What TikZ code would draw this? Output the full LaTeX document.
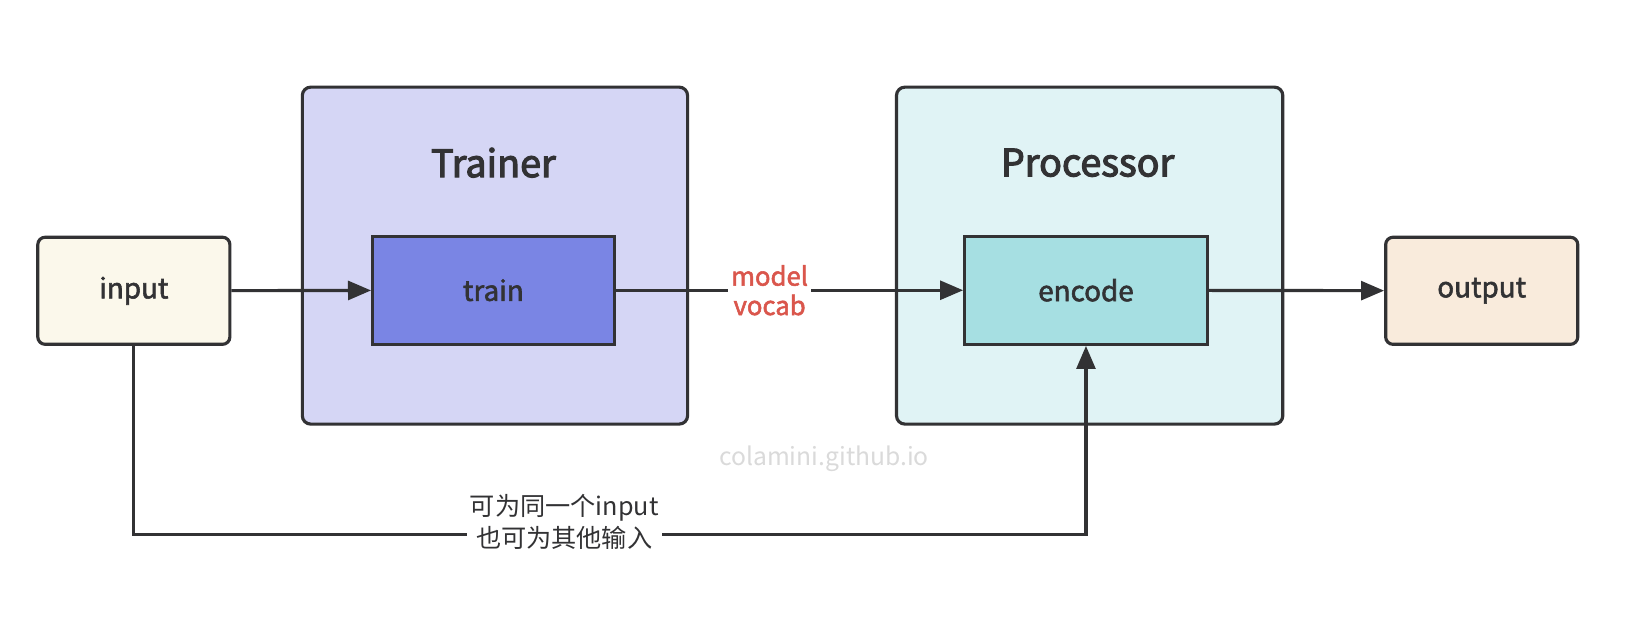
\documentclass[tikz,border=0pt]{standalone}
\usepackage{fontspec}
\setmainfont{Noto Sans CJK SC}
\newfontfamily\medfont{Noto Sans CJK SC}[FakeBold=2]
\newfontfamily\semfont{Noto Sans CJK SC}[FakeBold=3]
\usetikzlibrary{arrows.meta}
\definecolor{ink}{RGB}{50,50,52}
\definecolor{inputfill}{RGB}{251,248,235}
\definecolor{trainerfill}{RGB}{213,214,245}
\definecolor{trainfill}{RGB}{122,133,228}
\definecolor{procfill}{RGB}{224,243,245}
\definecolor{encfill}{RGB}{166,223,226}
\definecolor{outfill}{RGB}{249,235,220}
\definecolor{redtext}{RGB}{218,86,76}
\definecolor{wm}{RGB}{218,218,218}
\tikzset{
  box/.style={draw=ink, line width=3pt, rounded corners=7pt, text=ink,
    font=\medfont\fontsize{26.5}{32}\selectfont, inner sep=0pt},
  inner/.style={draw=ink, line width=3pt, text=ink,
    font=\medfont\fontsize{26.5}{32}\selectfont, inner sep=0pt},
  container/.style={draw=ink, line width=3pt, rounded corners=8pt, inner sep=0pt},
  title/.style={text=ink, font=\semfont\fontsize{36}{42}\selectfont},
  arr/.style={draw=ink, line width=3pt, -{Triangle[length=22pt,width=18pt]}},
}
\begin{document}
\begin{tikzpicture}[x=1pt,y=-1pt]
\useasboundingbox[fill=white] (0,0) rectangle (1568,594.4);
% containers
\node[container, fill=trainerfill, minimum width=367pt, minimum height=321pt] (trainer) at (471.5,243.5) {};
\node[container, fill=procfill, minimum width=368pt, minimum height=321pt] (processor) at (1038,243.5) {};
\node[title] (trainertitle) at (470,155) {Trainer};
\node[title] (proctitle) at (1036,155) {Processor};
% boxes
\node[box, fill=inputfill, minimum width=183pt, minimum height=102pt] (input) at (127.5,277) {input};
\node[inner, fill=trainfill, minimum width=230pt, minimum height=103pt] (train) at (470,276.5) {train};
\node[inner, fill=encfill, minimum width=231pt, minimum height=103pt] (encode) at (1034.5,276.5) {encode};
\node[box, fill=outfill, minimum width=183pt, minimum height=102pt] (output) at (1411.5,277) {output};
% connectors
\draw[arr] (input) -- (train);
\draw[arr] (train) -- node[pos=0.443, fill=white, inner sep=3pt, align=center, text=redtext,
  font=\medfont\fontsize{24.5}{28}\selectfont] (mv) {model\\vocab} (encode);
\draw[arr] (encode) -- (output);
\coordinate (c1) at (127.5,509);
\coordinate (c2) at (1034.5,509);
\draw[arr] (input.south) -- (c1) -- node[pos=0.452, yshift=12pt, fill=white, inner sep=3pt, align=center, text=ink,
  font=\fontsize{24}{31}\selectfont] (note) {可为同一个input\\也可为其他输入} (c2) -- (encode.south);
% watermark
\node[text=wm, font=\fontsize{23.5}{27}\selectfont] (wmk) at (785,437) {colamini.github.io};
\end{tikzpicture}
\end{document}
